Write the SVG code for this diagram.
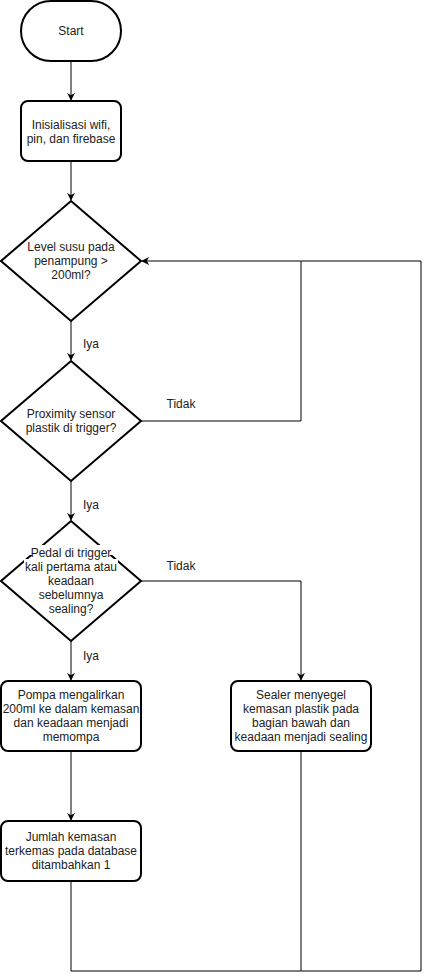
<svg xmlns="http://www.w3.org/2000/svg" width="430" height="980" viewBox="0 0 430 980">
<style>
.s{fill:#fff;stroke:#000;stroke-width:2}
.e{fill:none;stroke:#000;stroke-width:1}
text{font-family:"Liberation Sans",Arial,sans-serif;font-size:12px;fill:#222;text-anchor:middle}
.l{text-anchor:start}
</style>
<defs>
<marker id="a" viewBox="0 0 10 10" refX="9" refY="5" markerWidth="8" markerHeight="8" markerUnits="userSpaceOnUse" orient="auto">
<path d="M0,0 L10,5 L0,10 L3,5 Z" fill="#000"/>
</marker>
</defs>
<g id="connectors">
<path class="e" d="M71,61 V100" marker-end="url(#a)"/>
<path class="e" d="M71,161 V200" marker-end="url(#a)"/>
<path class="e" d="M71,321 V360" marker-end="url(#a)"/>
<path class="e" d="M71,481 V520" marker-end="url(#a)"/>
<path class="e" d="M71,641 V680" marker-end="url(#a)"/>
<path class="e" d="M141,581 H301 V680" marker-end="url(#a)"/>
<path class="e" d="M141,421 H301 V261"/>
<path class="e" d="M71,751 V820" marker-end="url(#a)"/>
<path class="e" d="M71,881 V971 H421 V261 H142" marker-end="url(#a)"/>
<path class="e" d="M301,751 V971"/>
<text x="91" y="348">Iya</text>
<text x="91" y="509">Iya</text>
<text x="91" y="660">Iya</text>
<text x="181" y="408">Tidak</text>
<text x="181" y="570">Tidak</text>
</g>
<g id="start">
<rect class="s" x="21" y="1" width="100" height="60" rx="30"/>
<text x="71" y="35">Start</text>
</g>
<g id="init">
<rect class="s" x="21" y="101" width="100" height="60" rx="7"/>
<text x="71" y="129">Inisialisasi wifi,</text>
<text x="71" y="143">pin, dan firebase</text>
</g>
<g id="d1">
<polygon class="s" points="71,201 141,261 71,321 1,261"/>
<text x="71" y="251">Level susu pada</text>
<text x="71" y="265">penampung &gt;</text>
<text x="71" y="279">200ml?</text>
</g>
<g id="d2">
<polygon class="s" points="71,361 141,421 71,481 1,421"/>
<text x="71" y="418">Proximity sensor</text>
<text x="71" y="432">plastik di trigger?</text>
</g>
<g id="d3">
<polygon class="s" points="71,521 141,581 71,641 1,581"/>
<rect x="30" y="545" width="83" height="10" fill="#fff"/>
<rect x="24" y="559" width="94" height="14" fill="#fff"/>
<rect x="46" y="573" width="50" height="14" fill="#fff"/>
<rect x="38" y="587" width="66" height="14" fill="#fff"/>
<rect x="48" y="601" width="46" height="14" fill="#fff"/>
<text x="71" y="557">Pedal di trigger</text>
<text x="71" y="571">kali pertama atau</text>
<text x="71" y="585">keadaan</text>
<text x="71" y="599">sebelumnya</text>
<text x="71" y="613">sealing?</text>
</g>
<g id="pompa">
<rect class="s" x="1" y="681" width="140" height="70" rx="7"/>
<text x="71" y="699">Pompa mengalirkan</text>
<text x="71" y="713">200ml ke dalam kemasan</text>
<text x="71" y="727">dan keadaan menjadi</text>
<text x="71" y="741">memompa</text>
</g>
<g id="sealer">
<rect class="s" x="231" y="681" width="140" height="70" rx="7"/>
<text x="301" y="699">Sealer menyegel</text>
<text x="301" y="713">kemasan plastik pada</text>
<text x="301" y="727">bagian bawah dan</text>
<text x="301" y="741">keadaan menjadi sealing</text>
</g>
<g id="jumlah">
<rect class="s" x="1" y="821" width="140" height="60" rx="7"/>
<text x="71" y="841">Jumlah kemasan</text>
<text x="71" y="855">terkemas pada database</text>
<text x="71" y="869">ditambahkan 1</text>
</g>
</svg>
